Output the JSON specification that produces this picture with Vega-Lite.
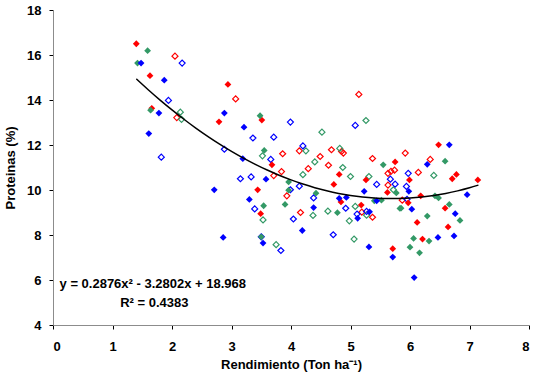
{
  "$schema": "https://vega.github.io/schema/vega-lite/v6.json",
  "width": 476,
  "height": 315,
  "autosize": {"type": "none"},
  "padding": {"left": 53, "top": 10, "right": 15, "bottom": 54},
  "background": "white",
  "config": {
    "view": {"stroke": null},
    "font": "Liberation Sans",
    "axis": {
      "grid": false,
      "domainColor": "#8c8c8c",
      "tickColor": "#000000",
      "tickSize": 4,
      "labelFont": "Liberation Sans",
      "labelFontWeight": "bold",
      "labelFontSize": 13,
      "labelColor": "#000000",
      "titleFont": "Liberation Sans",
      "titleFontWeight": "bold",
      "titleFontSize": 13,
      "titleColor": "#000000"
    }
  },
  "datasets": {
    "pts": [
      {"x": 1.40, "y": 16.50, "s": "Rojo", "f": "lleno"},
      {"x": 1.63, "y": 15.08, "s": "Rojo", "f": "lleno"},
      {"x": 1.66, "y": 13.63, "s": "Rojo", "f": "lleno"},
      {"x": 2.94, "y": 14.69, "s": "Rojo", "f": "lleno"},
      {"x": 2.79, "y": 13.03, "s": "Rojo", "f": "lleno"},
      {"x": 3.51, "y": 13.11, "s": "Rojo", "f": "lleno"},
      {"x": 3.68, "y": 11.12, "s": "Rojo", "f": "lleno"},
      {"x": 3.44, "y": 10.01, "s": "Rojo", "f": "lleno"},
      {"x": 3.49, "y": 8.95, "s": "Rojo", "f": "lleno"},
      {"x": 4.81, "y": 10.69, "s": "Rojo", "f": "lleno"},
      {"x": 4.72, "y": 10.25, "s": "Rojo", "f": "lleno"},
      {"x": 4.84, "y": 9.47, "s": "Rojo", "f": "lleno"},
      {"x": 5.18, "y": 9.33, "s": "Rojo", "f": "lleno"},
      {"x": 5.26, "y": 10.45, "s": "Rojo", "f": "lleno"},
      {"x": 5.75, "y": 11.25, "s": "Rojo", "f": "lleno"},
      {"x": 5.71, "y": 7.39, "s": "Rojo", "f": "lleno"},
      {"x": 6.48, "y": 12.01, "s": "Rojo", "f": "lleno"},
      {"x": 5.99, "y": 10.45, "s": "Rojo", "f": "lleno"},
      {"x": 5.62, "y": 9.89, "s": "Rojo", "f": "lleno"},
      {"x": 6.18, "y": 9.74, "s": "Rojo", "f": "lleno"},
      {"x": 5.97, "y": 9.43, "s": "Rojo", "f": "lleno"},
      {"x": 6.71, "y": 10.50, "s": "Rojo", "f": "lleno"},
      {"x": 6.78, "y": 10.69, "s": "Rojo", "f": "lleno"},
      {"x": 7.14, "y": 10.45, "s": "Rojo", "f": "lleno"},
      {"x": 6.59, "y": 9.19, "s": "Rojo", "f": "lleno"},
      {"x": 6.12, "y": 8.56, "s": "Rojo", "f": "lleno"},
      {"x": 6.64, "y": 8.36, "s": "Rojo", "f": "lleno"},
      {"x": 6.21, "y": 7.82, "s": "Rojo", "f": "lleno"},

      {"x": 1.59, "y": 16.19, "s": "Verde", "f": "lleno"},
      {"x": 1.42, "y": 15.64, "s": "Verde", "f": "lleno"},
      {"x": 1.64, "y": 13.55, "s": "Verde", "f": "lleno"},
      {"x": 3.48, "y": 13.30, "s": "Verde", "f": "lleno"},
      {"x": 3.55, "y": 11.76, "s": "Verde", "f": "lleno"},
      {"x": 3.96, "y": 10.36, "s": "Verde", "f": "lleno"},
      {"x": 3.96, "y": 9.99, "s": "Verde", "f": "lleno"},
      {"x": 3.54, "y": 9.30, "s": "Verde", "f": "lleno"},
      {"x": 3.90, "y": 9.36, "s": "Verde", "f": "lleno"},
      {"x": 4.42, "y": 9.86, "s": "Verde", "f": "lleno"},
      {"x": 3.50, "y": 7.92, "s": "Verde", "f": "lleno"},
      {"x": 5.55, "y": 11.12, "s": "Verde", "f": "lleno"},
      {"x": 4.78, "y": 8.99, "s": "Verde", "f": "lleno"},
      {"x": 5.40, "y": 9.52, "s": "Verde", "f": "lleno"},
      {"x": 5.52, "y": 9.55, "s": "Verde", "f": "lleno"},
      {"x": 5.83, "y": 9.18, "s": "Verde", "f": "lleno"},
      {"x": 5.77, "y": 9.87, "s": "Verde", "f": "lleno"},
      {"x": 6.59, "y": 11.28, "s": "Verde", "f": "lleno"},
      {"x": 6.42, "y": 9.74, "s": "Verde", "f": "lleno"},
      {"x": 6.48, "y": 9.65, "s": "Verde", "f": "lleno"},
      {"x": 5.85, "y": 9.19, "s": "Verde", "f": "lleno"},
      {"x": 6.66, "y": 9.36, "s": "Verde", "f": "lleno"},
      {"x": 6.29, "y": 8.84, "s": "Verde", "f": "lleno"},
      {"x": 6.84, "y": 8.65, "s": "Verde", "f": "lleno"},
      {"x": 6.06, "y": 7.85, "s": "Verde", "f": "lleno"},
      {"x": 6.32, "y": 7.73, "s": "Verde", "f": "lleno"},
      {"x": 6.00, "y": 7.46, "s": "Verde", "f": "lleno"},
      {"x": 6.16, "y": 7.21, "s": "Verde", "f": "lleno"},

      {"x": 1.48, "y": 15.64, "s": "Azul", "f": "lleno"},
      {"x": 1.87, "y": 14.88, "s": "Azul", "f": "lleno"},
      {"x": 1.78, "y": 13.42, "s": "Azul", "f": "lleno"},
      {"x": 1.61, "y": 12.51, "s": "Azul", "f": "lleno"},
      {"x": 2.88, "y": 13.42, "s": "Azul", "f": "lleno"},
      {"x": 3.21, "y": 12.79, "s": "Azul", "f": "lleno"},
      {"x": 3.19, "y": 11.39, "s": "Azul", "f": "lleno"},
      {"x": 3.58, "y": 10.48, "s": "Azul", "f": "lleno"},
      {"x": 2.71, "y": 10.01, "s": "Azul", "f": "lleno"},
      {"x": 3.30, "y": 9.58, "s": "Azul", "f": "lleno"},
      {"x": 4.19, "y": 8.20, "s": "Azul", "f": "lleno"},
      {"x": 2.86, "y": 7.89, "s": "Azul", "f": "lleno"},
      {"x": 3.53, "y": 7.64, "s": "Azul", "f": "lleno"},
      {"x": 4.38, "y": 9.22, "s": "Azul", "f": "lleno"},
      {"x": 5.23, "y": 9.94, "s": "Azul", "f": "lleno"},
      {"x": 4.81, "y": 9.63, "s": "Azul", "f": "lleno"},
      {"x": 4.93, "y": 9.67, "s": "Azul", "f": "lleno"},
      {"x": 5.44, "y": 9.52, "s": "Azul", "f": "lleno"},
      {"x": 5.12, "y": 8.74, "s": "Azul", "f": "lleno"},
      {"x": 5.32, "y": 9.03, "s": "Azul", "f": "lleno"},
      {"x": 5.31, "y": 7.47, "s": "Azul", "f": "lleno"},
      {"x": 5.71, "y": 7.02, "s": "Azul", "f": "lleno"},
      {"x": 6.66, "y": 12.01, "s": "Azul", "f": "lleno"},
      {"x": 6.29, "y": 11.14, "s": "Azul", "f": "lleno"},
      {"x": 5.98, "y": 9.94, "s": "Azul", "f": "lleno"},
      {"x": 6.96, "y": 9.79, "s": "Azul", "f": "lleno"},
      {"x": 6.03, "y": 9.15, "s": "Azul", "f": "lleno"},
      {"x": 6.76, "y": 8.95, "s": "Azul", "f": "lleno"},
      {"x": 6.74, "y": 7.96, "s": "Azul", "f": "lleno"},
      {"x": 6.47, "y": 7.89, "s": "Azul", "f": "lleno"},
      {"x": 6.07, "y": 6.11, "s": "Azul", "f": "lleno"},

      {"x": 2.05, "y": 15.95, "s": "Rojo", "f": "vacio"},
      {"x": 2.08, "y": 13.22, "s": "Rojo", "f": "vacio"},
      {"x": 3.07, "y": 14.05, "s": "Rojo", "f": "vacio"},
      {"x": 3.86, "y": 11.61, "s": "Rojo", "f": "vacio"},
      {"x": 3.84, "y": 10.82, "s": "Rojo", "f": "vacio"},
      {"x": 3.71, "y": 10.64, "s": "Rojo", "f": "vacio"},
      {"x": 3.93, "y": 9.74, "s": "Rojo", "f": "vacio"},
      {"x": 4.16, "y": 9.00, "s": "Rojo", "f": "vacio"},
      {"x": 4.14, "y": 11.74, "s": "Rojo", "f": "vacio"},
      {"x": 4.68, "y": 11.79, "s": "Rojo", "f": "vacio"},
      {"x": 4.85, "y": 11.71, "s": "Rojo", "f": "vacio"},
      {"x": 4.88, "y": 11.64, "s": "Rojo", "f": "vacio"},
      {"x": 4.49, "y": 11.49, "s": "Rojo", "f": "vacio"},
      {"x": 4.63, "y": 11.10, "s": "Rojo", "f": "vacio"},
      {"x": 4.29, "y": 10.95, "s": "Rojo", "f": "vacio"},
      {"x": 5.37, "y": 11.40, "s": "Rojo", "f": "vacio"},
      {"x": 5.63, "y": 10.74, "s": "Rojo", "f": "vacio"},
      {"x": 5.68, "y": 10.83, "s": "Rojo", "f": "vacio"},
      {"x": 5.74, "y": 10.88, "s": "Rojo", "f": "vacio"},
      {"x": 5.19, "y": 9.02, "s": "Rojo", "f": "vacio"},
      {"x": 5.37, "y": 8.79, "s": "Rojo", "f": "vacio"},
      {"x": 5.14, "y": 14.25, "s": "Rojo", "f": "vacio"},
      {"x": 5.92, "y": 11.64, "s": "Rojo", "f": "vacio"},
      {"x": 6.34, "y": 11.36, "s": "Rojo", "f": "vacio"},
      {"x": 6.14, "y": 10.78, "s": "Rojo", "f": "vacio"},
      {"x": 5.63, "y": 10.22, "s": "Rojo", "f": "vacio"},
      {"x": 5.87, "y": 9.55, "s": "Rojo", "f": "vacio"},

      {"x": 2.14, "y": 13.46, "s": "Verde", "f": "vacio"},
      {"x": 2.16, "y": 13.14, "s": "Verde", "f": "vacio"},
      {"x": 3.52, "y": 11.52, "s": "Verde", "f": "vacio"},
      {"x": 3.53, "y": 8.67, "s": "Verde", "f": "vacio"},
      {"x": 3.75, "y": 7.57, "s": "Verde", "f": "vacio"},
      {"x": 5.26, "y": 13.09, "s": "Verde", "f": "vacio"},
      {"x": 4.52, "y": 12.57, "s": "Verde", "f": "vacio"},
      {"x": 4.25, "y": 11.74, "s": "Verde", "f": "vacio"},
      {"x": 4.82, "y": 11.85, "s": "Verde", "f": "vacio"},
      {"x": 4.40, "y": 11.25, "s": "Verde", "f": "vacio"},
      {"x": 4.87, "y": 11.00, "s": "Verde", "f": "vacio"},
      {"x": 4.20, "y": 10.68, "s": "Verde", "f": "vacio"},
      {"x": 5.00, "y": 10.60, "s": "Verde", "f": "vacio"},
      {"x": 5.31, "y": 10.60, "s": "Verde", "f": "vacio"},
      {"x": 4.37, "y": 8.87, "s": "Verde", "f": "vacio"},
      {"x": 4.62, "y": 9.06, "s": "Verde", "f": "vacio"},
      {"x": 5.08, "y": 9.27, "s": "Verde", "f": "vacio"},
      {"x": 5.27, "y": 8.88, "s": "Verde", "f": "vacio"},
      {"x": 4.98, "y": 8.63, "s": "Verde", "f": "vacio"},
      {"x": 5.06, "y": 7.82, "s": "Verde", "f": "vacio"},
      {"x": 6.40, "y": 10.65, "s": "Verde", "f": "vacio"},
      {"x": 5.72, "y": 10.01, "s": "Verde", "f": "vacio"},

      {"x": 2.17, "y": 15.64, "s": "Azul", "f": "vacio"},
      {"x": 1.94, "y": 13.98, "s": "Azul", "f": "vacio"},
      {"x": 1.82, "y": 11.46, "s": "Azul", "f": "vacio"},
      {"x": 2.88, "y": 11.81, "s": "Azul", "f": "vacio"},
      {"x": 3.66, "y": 11.36, "s": "Azul", "f": "vacio"},
      {"x": 3.15, "y": 10.50, "s": "Azul", "f": "vacio"},
      {"x": 3.33, "y": 10.58, "s": "Azul", "f": "vacio"},
      {"x": 3.99, "y": 10.01, "s": "Azul", "f": "vacio"},
      {"x": 3.39, "y": 9.16, "s": "Azul", "f": "vacio"},
      {"x": 4.04, "y": 8.71, "s": "Azul", "f": "vacio"},
      {"x": 3.50, "y": 7.92, "s": "Azul", "f": "vacio"},
      {"x": 3.83, "y": 7.31, "s": "Azul", "f": "vacio"},
      {"x": 3.99, "y": 13.02, "s": "Azul", "f": "vacio"},
      {"x": 5.08, "y": 12.87, "s": "Azul", "f": "vacio"},
      {"x": 3.36, "y": 12.31, "s": "Azul", "f": "vacio"},
      {"x": 3.71, "y": 12.35, "s": "Azul", "f": "vacio"},
      {"x": 4.20, "y": 11.96, "s": "Azul", "f": "vacio"},
      {"x": 4.14, "y": 10.17, "s": "Azul", "f": "vacio"},
      {"x": 4.38, "y": 9.65, "s": "Azul", "f": "vacio"},
      {"x": 5.44, "y": 10.25, "s": "Azul", "f": "vacio"},
      {"x": 4.92, "y": 9.19, "s": "Azul", "f": "vacio"},
      {"x": 5.11, "y": 8.93, "s": "Azul", "f": "vacio"},
      {"x": 5.27, "y": 9.05, "s": "Azul", "f": "vacio"},
      {"x": 4.71, "y": 8.01, "s": "Azul", "f": "vacio"},
      {"x": 5.97, "y": 10.74, "s": "Azul", "f": "vacio"},
      {"x": 5.67, "y": 10.48, "s": "Azul", "f": "vacio"},
      {"x": 5.75, "y": 10.26, "s": "Azul", "f": "vacio"},
      {"x": 5.94, "y": 10.16, "s": "Azul", "f": "vacio"},
      {"x": 5.95, "y": 9.59, "s": "Azul", "f": "vacio"}
    ],
    "trend": [
      {"x": 1.4, "y": 14.939}, {"x": 1.6, "y": 14.456}, {"x": 1.8, "y": 13.995},
      {"x": 2.0, "y": 13.558}, {"x": 2.2, "y": 13.144}, {"x": 2.4, "y": 12.752},
      {"x": 2.6, "y": 12.384}, {"x": 2.8, "y": 12.038}, {"x": 3.0, "y": 11.716},
      {"x": 3.2, "y": 11.416}, {"x": 3.4, "y": 11.140}, {"x": 3.6, "y": 10.887},
      {"x": 3.8, "y": 10.656}, {"x": 4.0, "y": 10.449}, {"x": 4.2, "y": 10.264},
      {"x": 4.4, "y": 10.103}, {"x": 4.6, "y": 9.965}, {"x": 4.8, "y": 9.849},
      {"x": 5.0, "y": 9.757}, {"x": 5.2, "y": 9.688}, {"x": 5.4, "y": 9.641},
      {"x": 5.6, "y": 9.618}, {"x": 5.8, "y": 9.618}, {"x": 6.0, "y": 9.640},
      {"x": 6.2, "y": 9.686}, {"x": 6.4, "y": 9.755}, {"x": 6.6, "y": 9.847},
      {"x": 6.8, "y": 9.961}, {"x": 7.0, "y": 10.099}, {"x": 7.15, "y": 10.218}
    ],
    "labels": [
      {"x": 0.11, "y": 5.84, "t": "y = 0.2876x² - 3.2802x + 18.968"},
      {"x": 1.13, "y": 4.96, "t": "R² = 0.4383"}
    ]
  },
  "encoding": {
    "x": {
      "field": "x", "type": "quantitative",
      "scale": {"domain": [0, 8], "nice": false, "zero": false},
      "axis": {"values": [0,1,2,3,4,5,6,7,8], "title": "Rendimiento (Ton ha⁻¹)", "labelPadding": 11, "titlePadding": 5}
    },
    "y": {
      "field": "y", "type": "quantitative",
      "scale": {"domain": [4, 18], "nice": false, "zero": false},
      "axis": {"values": [4,6,8,10,12,14,16,18], "title": "Proteinas (%)", "labelPadding": 8, "titlePadding": 9}
    }
  },
  "layer": [
    {
      "data": {"name": "pts"},
      "transform": [{"filter": "datum.f === 'vacio'"}],
      "mark": {"type": "point", "shape": "diamond", "filled": false, "size": 36, "strokeWidth": 1.2, "opacity": 1},
      "encoding": {
        "color": {"field": "s", "type": "nominal", "legend": null,
          "scale": {"domain": ["Azul", "Rojo", "Verde"], "range": ["#0000FF", "#FF0000", "#339966"]}}
      }
    },
    {
      "data": {"name": "pts"},
      "transform": [{"filter": "datum.f === 'lleno'"}],
      "mark": {"type": "point", "shape": "diamond", "filled": true, "size": 46, "opacity": 1},
      "encoding": {
        "color": {"field": "s", "type": "nominal", "legend": null,
          "scale": {"domain": ["Azul", "Rojo", "Verde"], "range": ["#0000FF", "#FF0000", "#339966"]}}
      }
    },
    {
      "data": {"name": "trend"},
      "mark": {"type": "line", "color": "#000000", "strokeWidth": 1.5, "interpolate": "monotone"}
    },
    {
      "data": {"name": "labels"},
      "mark": {"type": "text", "align": "left", "baseline": "middle", "font": "Liberation Sans", "fontWeight": "bold", "fontSize": 13, "color": "#000000"},
      "encoding": {"text": {"field": "t", "type": "nominal"}}
    }
  ]
}
